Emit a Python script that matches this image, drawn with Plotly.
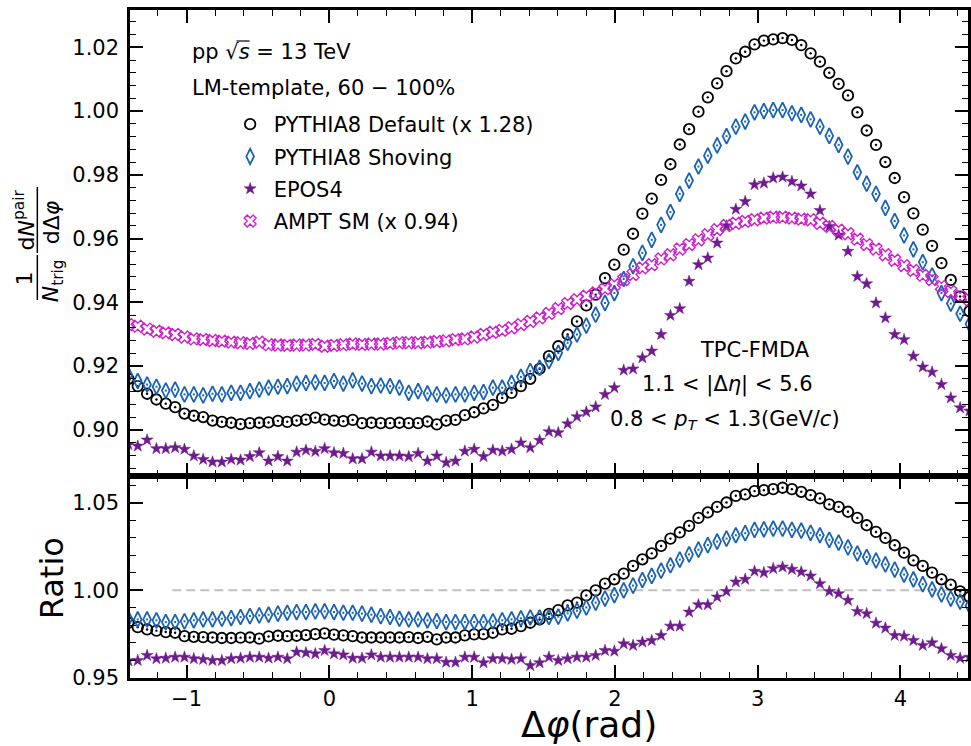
import numpy as np
import plotly.graph_objects as go

# ---------------------------------------------------------------- data
# Δφ binning: 96 bins over [-π/2, 3π/2); bins 2..92 fall inside the axis range
N_BINS = 96
FIRST_BIN, LAST_BIN = 2, 92
dphi = -np.pi / 2 + (np.arange(FIRST_BIN, LAST_BIN + 1) + 0.5) * (2 * np.pi / N_BINS)

# upper panel: per-trigger pair yields
pythia_default = [
    0.9160, 0.9137, 0.9113, 0.9095, 0.9082, 0.9071, 0.9051, 0.9044, 0.9040, 0.9029,
    0.9025, 0.9022, 0.9018, 0.9021, 0.9022, 0.9023, 0.9028, 0.9025, 0.9029, 0.9032,
    0.9038, 0.9032, 0.9029, 0.9027, 0.9031, 0.9021, 0.9022, 0.9021, 0.9021, 0.9022,
    0.9021, 0.9021, 0.9026, 0.9017, 0.9029, 0.9031, 0.9046, 0.9055, 0.9067, 0.9078,
    0.9100, 0.9116, 0.9137, 0.9160, 0.9191, 0.9231, 0.9262, 0.9299, 0.9340, 0.9390,
    0.9424, 0.9476, 0.9518, 0.9565, 0.9615, 0.9678, 0.9725, 0.9784, 0.9833, 0.9895,
    0.9943, 0.9998, 1.0043, 1.0087, 1.0125, 1.0165, 1.0186, 1.0209, 1.0221, 1.0225,
    1.0229, 1.0223, 1.0207, 1.0181, 1.0155, 1.0120, 1.0085, 1.0049, 0.9996, 0.9939,
    0.9894, 0.9840, 0.9790, 0.9730, 0.9679, 0.9628, 0.9577, 0.9523, 0.9470, 0.9418,
    0.9372,
]
pythia_shoving = [
    0.9172, 0.9153, 0.9142, 0.9135, 0.9123, 0.9126, 0.9111, 0.9111, 0.9108, 0.9113,
    0.9111, 0.9116, 0.9116, 0.9121, 0.9126, 0.9132, 0.9135, 0.9137, 0.9145, 0.9147,
    0.9149, 0.9147, 0.9153, 0.9145, 0.9155, 0.9145, 0.9137, 0.9139, 0.9137, 0.9132,
    0.9116, 0.9121, 0.9114, 0.9111, 0.9108, 0.9111, 0.9111, 0.9116, 0.9118, 0.9132,
    0.9132, 0.9147, 0.9166, 0.9184, 0.9194, 0.9215, 0.9241, 0.9273, 0.9299, 0.9327,
    0.9361, 0.9398, 0.9429, 0.9473, 0.9513, 0.9555, 0.9596, 0.9643, 0.9683, 0.9740,
    0.9782, 0.9826, 0.9860, 0.9892, 0.9921, 0.9951, 0.9967, 0.9996, 1.0000, 1.0003,
    1.0003, 0.9993, 0.9988, 0.9974, 0.9951, 0.9922, 0.9894, 0.9857, 0.9808, 0.9772,
    0.9740, 0.9696, 0.9655, 0.9610, 0.9566, 0.9526, 0.9484, 0.9429, 0.9396, 0.9364,
    0.9332,
]
epos4 = [
    0.8954, 0.8949, 0.8968, 0.8941, 0.8941, 0.8944, 0.8939, 0.8918, 0.8907, 0.8899,
    0.8899, 0.8907, 0.8905, 0.8916, 0.8928, 0.8902, 0.8916, 0.8902, 0.8930, 0.8936,
    0.8932, 0.8941, 0.8928, 0.8926, 0.8909, 0.8909, 0.8930, 0.8918, 0.8918, 0.8918,
    0.8916, 0.8926, 0.8902, 0.8918, 0.8897, 0.8902, 0.8933, 0.8939, 0.8916, 0.8936,
    0.8933, 0.8939, 0.8959, 0.8944, 0.8967, 0.8994, 0.8991, 0.9019, 0.9041, 0.9056,
    0.9072, 0.9111, 0.9132, 0.9187, 0.9191, 0.9226, 0.9247, 0.9299, 0.9359, 0.9380,
    0.9466, 0.9518, 0.9539, 0.9586, 0.9640, 0.9692, 0.9716, 0.9769, 0.9774, 0.9790,
    0.9793, 0.9779, 0.9765, 0.9740, 0.9688, 0.9638, 0.9611, 0.9560, 0.9481, 0.9458,
    0.9398, 0.9351, 0.9299, 0.9283, 0.9231, 0.9197, 0.9181, 0.9142, 0.9100, 0.9069,
    0.9059,
]
ampt_sm = [
    0.9330, 0.9325, 0.9316, 0.9309, 0.9304, 0.9299, 0.9291, 0.9285, 0.9283, 0.9280,
    0.9278, 0.9275, 0.9273, 0.9271, 0.9275, 0.9267, 0.9266, 0.9265, 0.9266, 0.9266,
    0.9268, 0.9262, 0.9265, 0.9267, 0.9269, 0.9268, 0.9269, 0.9269, 0.9271, 0.9273,
    0.9273, 0.9273, 0.9275, 0.9277, 0.9279, 0.9283, 0.9285, 0.9291, 0.9299, 0.9306,
    0.9312, 0.9320, 0.9330, 0.9340, 0.9351, 0.9365, 0.9380, 0.9396, 0.9408, 0.9419,
    0.9429, 0.9442, 0.9455, 0.9471, 0.9487, 0.9508, 0.9518, 0.9536, 0.9549, 0.9567,
    0.9581, 0.9596, 0.9612, 0.9628, 0.9641, 0.9648, 0.9654, 0.9659, 0.9664, 0.9667,
    0.9667, 0.9664, 0.9661, 0.9659, 0.9648, 0.9638, 0.9626, 0.9615, 0.9598, 0.9581,
    0.9567, 0.9549, 0.9532, 0.9515, 0.9500, 0.9485, 0.9471, 0.9450, 0.9434, 0.9419,
    0.9408,
]

# lower panel: ratios
ratio_default = [
    0.9815, 0.9790, 0.9777, 0.9770, 0.9762, 0.9758, 0.9739, 0.9735, 0.9733, 0.9731,
    0.9728, 0.9728, 0.9730, 0.9731, 0.9724, 0.9737, 0.9741, 0.9739, 0.9741, 0.9745,
    0.9750, 0.9754, 0.9747, 0.9743, 0.9739, 0.9731, 0.9731, 0.9731, 0.9731, 0.9731,
    0.9733, 0.9728, 0.9735, 0.9720, 0.9731, 0.9731, 0.9743, 0.9749, 0.9750, 0.9758,
    0.9777, 0.9781, 0.9796, 0.9815, 0.9834, 0.9866, 0.9887, 0.9914, 0.9930, 0.9971,
    1.0000, 1.0038, 1.0063, 1.0095, 1.0139, 1.0177, 1.0211, 1.0253, 1.0295, 1.0330,
    1.0368, 1.0413, 1.0444, 1.0476, 1.0501, 1.0539, 1.0547, 1.0566, 1.0571, 1.0577,
    1.0585, 1.0577, 1.0562, 1.0543, 1.0524, 1.0490, 1.0476, 1.0448, 1.0413, 1.0371,
    1.0333, 1.0299, 1.0257, 1.0215, 1.0171, 1.0139, 1.0101, 1.0063, 1.0032, 0.9994,
    0.9962,
]
ratio_shoving = [
    0.9838, 0.9834, 0.9834, 0.9829, 0.9819, 0.9819, 0.9823, 0.9829, 0.9834, 0.9834,
    0.9838, 0.9842, 0.9848, 0.9853, 0.9857, 0.9861, 0.9867, 0.9872, 0.9876, 0.9876,
    0.9880, 0.9880, 0.9876, 0.9872, 0.9872, 0.9867, 0.9861, 0.9853, 0.9848, 0.9838,
    0.9834, 0.9834, 0.9829, 0.9825, 0.9819, 0.9819, 0.9819, 0.9819, 0.9819, 0.9823,
    0.9829, 0.9834, 0.9840, 0.9845, 0.9845, 0.9848, 0.9850, 0.9869, 0.9884, 0.9902,
    0.9930, 0.9953, 0.9973, 1.0000, 1.0027, 1.0059, 1.0082, 1.0112, 1.0143, 1.0175,
    1.0205, 1.0232, 1.0258, 1.0278, 1.0295, 1.0314, 1.0326, 1.0345, 1.0348, 1.0352,
    1.0352, 1.0345, 1.0340, 1.0328, 1.0314, 1.0288, 1.0272, 1.0245, 1.0210, 1.0190,
    1.0170, 1.0148, 1.0118, 1.0090, 1.0062, 1.0035, 1.0005, 0.9977, 0.9953, 0.9935,
    0.9912,
]
ratio_epos4 = [
    0.9598, 0.9600, 0.9629, 0.9610, 0.9613, 0.9619, 0.9619, 0.9610, 0.9606, 0.9600,
    0.9600, 0.9610, 0.9613, 0.9619, 0.9619, 0.9613, 0.9619, 0.9610, 0.9648, 0.9644,
    0.9638, 0.9657, 0.9638, 0.9632, 0.9613, 0.9613, 0.9632, 0.9619, 0.9619, 0.9619,
    0.9619, 0.9619, 0.9610, 0.9610, 0.9590, 0.9590, 0.9619, 0.9619, 0.9587, 0.9610,
    0.9610, 0.9606, 0.9610, 0.9571, 0.9587, 0.9619, 0.9600, 0.9610, 0.9619, 0.9619,
    0.9629, 0.9657, 0.9653, 0.9695, 0.9686, 0.9705, 0.9714, 0.9743, 0.9796, 0.9796,
    0.9876, 0.9918, 0.9918, 0.9962, 0.9994, 1.0048, 1.0063, 1.0109, 1.0101, 1.0124,
    1.0133, 1.0120, 1.0105, 1.0082, 1.0038, 0.9994, 0.9981, 0.9943, 0.9880, 0.9867,
    0.9813, 0.9785, 0.9743, 0.9739, 0.9714, 0.9686, 0.9701, 0.9667, 0.9629, 0.9613,
    0.9619,
]

legend_names = ["PYTHIA8 Default (x 1.28)", "PYTHIA8 Shoving", "EPOS4", "AMPT SM (x 0.94)"]
RATIO_REF = 1.0
RATIO_REF_START = -1.1

# ---------------------------------------------------------------- layout
W, H = 971, 746
PL, PR, PT, PB = 130, 971, 10, 678        # plot-area box in pixels
SPLIT = 476                               # boundary between the two panels
X_RANGE = [-1.396, 4.473]
Y_TOP_RANGE = [0.8855, 1.0317]
Y_BOT_RANGE = [0.95, 1.0652]

FONT = "DejaVu Sans"
BLACK = "black"
BLUE = "#1a62b4"
PURPLE = "#6e1b8e"
MAGENTA = "#cc22cc"

CIRCLE = dict(symbol="circle-open", size=10.5, color=BLACK, line=dict(width=1.8))
CIRCLE_DOT = dict(symbol="circle", size=2.4, color=BLACK)
DIAMOND = dict(symbol="diamond-tall-open", size=11, color=BLUE, line=dict(width=1.8))
DIAMOND_DOT = dict(symbol="square", size=2, color=BLUE)
STAR = dict(symbol="star", size=9, color=PURPLE, line=dict(width=0.5, color=PURPLE))
CROSS = dict(symbol="x-open", size=10.5, color=MAGENTA, line=dict(width=1.4))


def fx(xpix):
    return (xpix - PL) / (PR - PL)


def fy(ypix):
    return (PB - ypix) / (PB - PT)


split_frac = fy(SPLIT)

fig = go.Figure()


def markers(y, marker, xa, ya, name=None, group=None):
    fig.add_trace(go.Scatter(
        x=dphi, y=y, mode="markers", marker=marker, xaxis=xa, yaxis=ya,
        name=name, showlegend=name is not None, legendgroup=group,
        hoverinfo="skip" if name is None else None))


# upper panel
markers(pythia_default, CIRCLE, "x2", "y2", legend_names[0], "g1")
markers(pythia_default, CIRCLE_DOT, "x2", "y2")
markers(pythia_shoving, DIAMOND, "x2", "y2", legend_names[1], "g2")
markers(pythia_shoving, DIAMOND_DOT, "x2", "y2")
markers(epos4, STAR, "x2", "y2", legend_names[2], "g3")
markers(ampt_sm, CROSS, "x2", "y2", legend_names[3], "g4")

# lower panel
markers(ratio_default, CIRCLE, "x", "y")
markers(ratio_default, CIRCLE_DOT, "x", "y")
markers(ratio_shoving, DIAMOND, "x", "y")
markers(ratio_shoving, DIAMOND_DOT, "x", "y")
markers(ratio_epos4, STAR, "x", "y")

axis_common = dict(
    showline=True, linecolor="black", linewidth=2.5, mirror="allticks",
    ticks="inside", ticklen=13, tickwidth=1.6, tickcolor="black",
    showgrid=False, zeroline=False,
    tickfont=dict(family=FONT, size=21, color="black"),
)


def minor(step):
    return dict(ticks="inside", ticklen=6.5, tickwidth=1.2, tickcolor="black", dtick=step)


fig.update_layout(
    width=W, height=H,
    margin=dict(l=PL, r=W - PR, t=PT, b=H - PB),
    paper_bgcolor="white", plot_bgcolor="white",
    font=dict(family=FONT, size=21, color="black"),
    xaxis=dict(domain=[0, 1], anchor="y", range=X_RANGE, tick0=0, dtick=1,
               minor=minor(0.2), ticklabelstandoff=0, **axis_common),
    xaxis2=dict(domain=[0, 1], anchor="y2", matches="x", range=X_RANGE, tick0=0, dtick=1,
                showticklabels=False, minor=minor(0.2), **axis_common),
    yaxis=dict(domain=[0, split_frac], anchor="x", range=Y_BOT_RANGE, tick0=0.95, dtick=0.05,
               tickformat=".2f", minor=minor(0.01), ticklabelstandoff=4, **axis_common),
    yaxis2=dict(domain=[split_frac, 1], anchor="x2", range=Y_TOP_RANGE, tick0=0.90, dtick=0.02,
                tickformat=".2f", minor=minor(0.004), ticklabelstandoff=4, **axis_common),
    showlegend=True,
    legend=dict(x=fx(227), y=fy(104), xanchor="left", yanchor="top",
                font=dict(family=FONT, size=21), bgcolor="rgba(0,0,0,0)",
                itemwidth=37, borderwidth=0, tracegroupgap=2, traceorder="grouped"),
)

# ratio = 1 reference line
fig.add_shape(type="line", xref="x", yref="y", x0=RATIO_REF_START, x1=X_RANGE[1],
              y0=RATIO_REF, y1=RATIO_REF, layer="below",
              line=dict(color="#c0c0c0", width=2, dash="9px,5px"))


def note(text, xpix, ypix, size=21, xanchor="center", angle=0):
    fig.add_annotation(text=text, xref="paper", yref="paper", x=fx(xpix), y=fy(ypix),
                       xanchor=xanchor, yanchor="middle", showarrow=False, textangle=angle,
                       font=dict(family=FONT, size=size, color="black"))


# labels inside the upper panel
note("pp √<i>s</i> = 13 TeV", 190, 52, xanchor="left")
note("LM-template, 60 − 100%", 190, 88, xanchor="left")
note("TPC-FMDA", 757, 350)
note("1.1 &lt; |Δ<i>η</i>| &lt; 5.6", 730, 384)
note("0.8 &lt; <i>p</i><sub><i>T</i></sub> &lt; 1.3(GeV/<i>c</i>)", 727, 420)
# bar of the square root over "s"
fig.add_shape(type="line", xref="paper", yref="paper", x0=fx(237), x1=fx(250),
              y0=fy(41), y1=fy(41), line=dict(color="black", width=1.2))

# axis titles
note("Δ<i>φ</i>(rad)", 591, 724, size=36)
note("Ratio", 52, 578, size=32, angle=-90)

# y title of the upper panel: (1/N_trig) dN^pair/dΔφ, rotated
note("1", 24, 278, size=22, angle=-90)
note("<i>N</i><sub>trig</sub>", 52, 281, size=22, angle=-90)
note("d<i>N</i><sup>pair</sup>", 24, 220, size=22, angle=-90)
note("dΔ<i>φ</i>", 52, 222, size=22, angle=-90)
for y0, y1 in [(255, 300), (187, 253)]:
    fig.add_shape(type="line", xref="paper", yref="paper", x0=fx(37), x1=fx(37),
                  y0=fy(y0), y1=fy(y1), line=dict(color="black", width=1.5))

fig.write_html("out.html")
